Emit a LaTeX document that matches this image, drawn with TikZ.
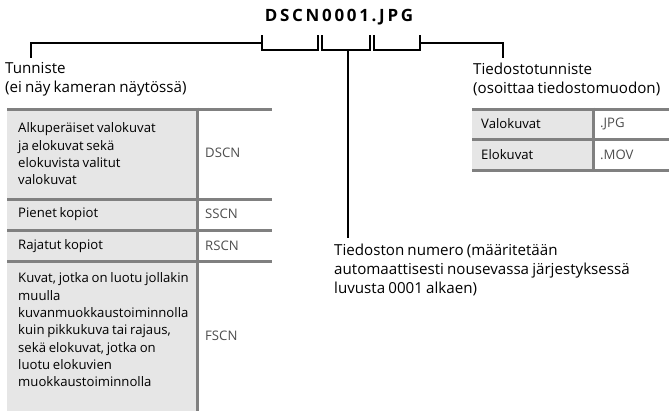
\documentclass[tikz,border=0pt]{standalone}
\usepackage{fontspec}
\setmainfont{Open Sans}
\newfontfamily\titlefont{Open Sans}[LetterSpace=16]
\newfontfamily\tabfont{Open Sans}[WordSpace=0.6]
\newfontfamily\labfont{Open Sans}[WordSpace=0.8]
\definecolor{rulegray}{HTML}{808080}
\definecolor{cellgray}{HTML}{E6E6E6}
\definecolor{codetext}{HTML}{4D4D4D}
\begin{document}
\begin{tikzpicture}[x=1bp,y=-1bp,
  bracket/.style={line width=2bp, black},
  tabrule/.style={line width=3bp, rulegray},
  lab/.style={anchor=west, inner sep=0pt, align=left, font=\labfont\fontsize{15.2}{19}\selectfont},
  cell/.style={anchor=west, inner sep=0pt, align=left, font=\tabfont\fontsize{13.2}{17.4}\selectfont},
  code/.style={anchor=west, inner sep=0pt, font=\tabfont\fontsize{13.2}{17.4}\selectfont, text=codetext},
  titlestyle/.style={inner sep=0pt, font=\titlefont\bfseries\fontsize{17}{20}\selectfont}]
\useasboundingbox (0,0) rectangle (669,411);

% title
\node[titlestyle] (title) at (339,17) {DSCN0001.JPG};

% brackets
\draw[bracket] (262,35) -- (262,50) -- (318,50) -- (318,35);
\draw[bracket] (322,35) -- (322,50) -- (370,50) -- (370,35);
\draw[bracket] (374,35) -- (374,50) -- (420,50) -- (420,35);
\coordinate (lbA) at (262,43);
\coordinate (lbB) at (31,58);
\coordinate (rbA) at (420,43);
\coordinate (rbB) at (503,58);
\coordinate (mbA) at (348,50);
\coordinate (mbB) at (348,238);
\draw[bracket] (lbA) -| (lbB);
\draw[bracket] (rbA) -| (rbB);
\draw[bracket] (mbA) -- (mbB);

% labels
\node[lab] (tun) at (5,79.5) {Tunniste\\(ei näy kameran näytössä)};
\node[lab] (ext) at (473,79.5) {Tiedostotunniste\\(osoittaa tiedostomuodon)};
\node[lab] (num) at (334,270) {Tiedoston numero (määritetään\\automaattisesti nousevassa järjestyksessä\\luvusta 0001 alkaen)};

% left table
\fill[cellgray] (7,109) rectangle (197,411);
\draw[tabrule] (7,109) -- (272,109);
\draw[tabrule] (7,199) -- (272,199);
\draw[tabrule] (7,230) -- (272,230);
\draw[tabrule] (7,261) -- (272,261);
\draw[tabrule] (197,107.5) -- (197,411);

\node[cell] (r1) at (18,154) {Alkuperäiset valokuvat\\ja elokuvat sekä\\elokuvista valitut\\valokuvat};
\node[code] (c1) at (205,153) {DSCN};
\node[cell] (r2) at (18,214) {Pienet kopiot};
\node[code] (c2) at (205,214) {SSCN};
\node[cell] (r3) at (18,246) {Rajatut kopiot};
\node[code] (c3) at (205,246) {RSCN};
\node[cell] (r4) at (18,330) {Kuvat, jotka on luotu jollakin\\muulla\\kuvanmuokkaustoiminnolla\\kuin pikkukuva tai rajaus,\\sekä elokuvat, jotka on\\luotu elokuvien\\muokkaustoiminnolla};
\node[code] (c4) at (205,336) {FSCN};

% right table
\fill[cellgray] (472,109) rectangle (593,170);
\draw[tabrule] (472,109) -- (669,109);
\draw[tabrule] (472,139) -- (669,139);
\draw[tabrule] (472,170) -- (669,170);
\draw[tabrule] (593,107.5) -- (593,171.5);
\node[cell] (e1) at (481,124) {Valokuvat};
\node[code] (x1) at (600,124) {.JPG};
\node[cell] (e2) at (481,155) {Elokuvat};
\node[code] (x2) at (600,155) {.MOV};
\end{tikzpicture}
\end{document}
